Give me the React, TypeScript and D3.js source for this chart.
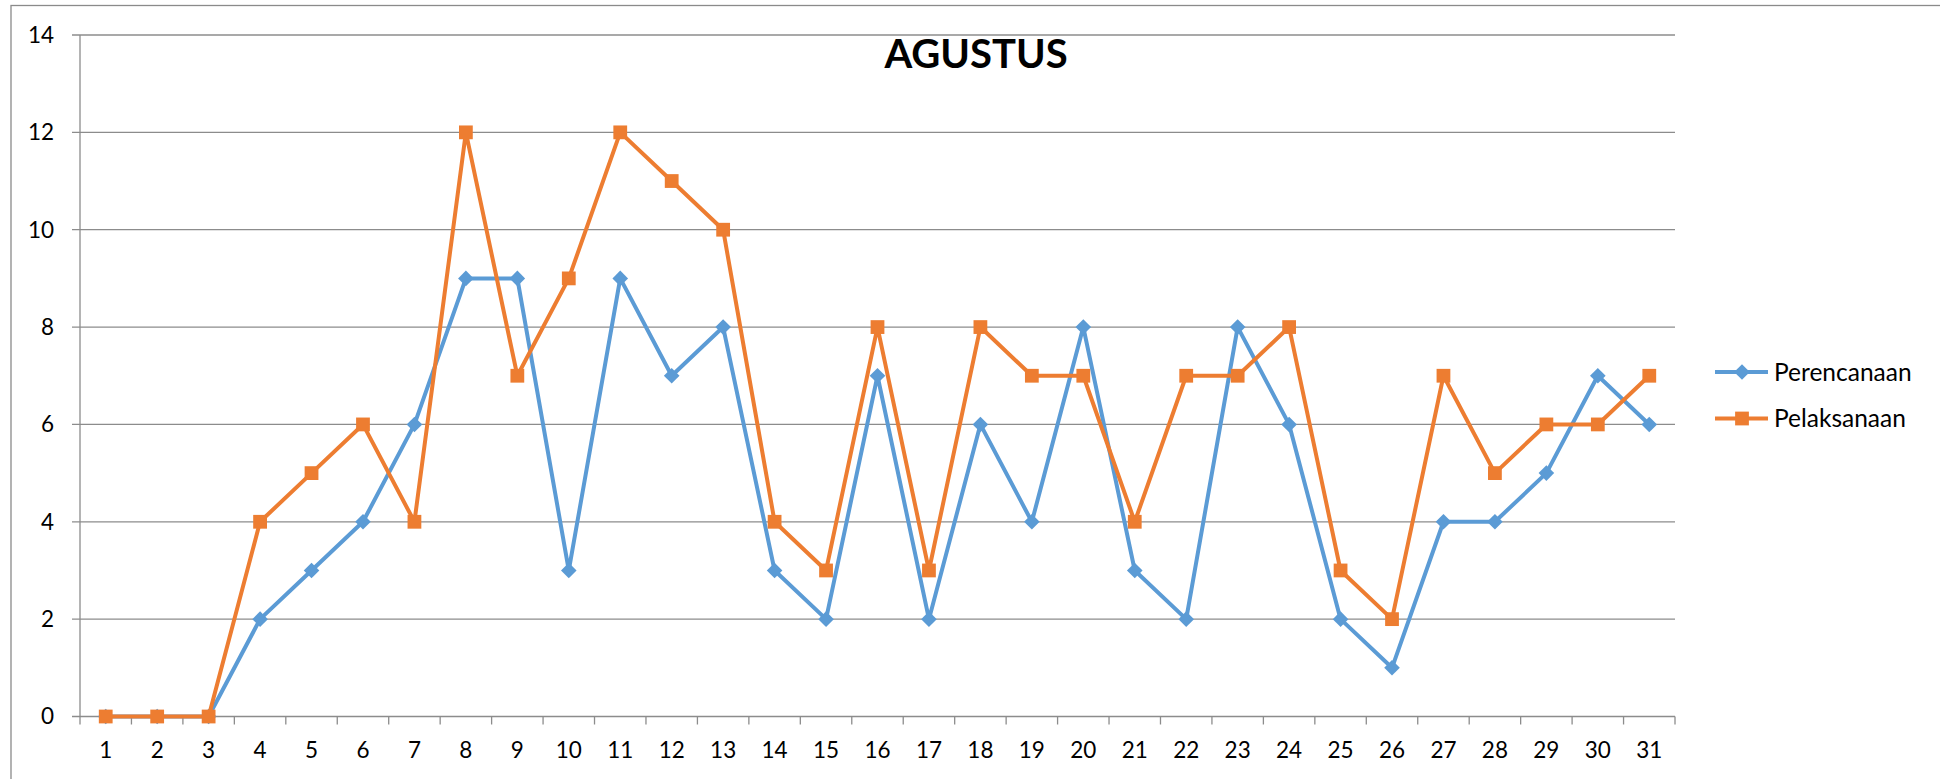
import React from "react"
import { scaleBand, scaleLinear, line, symbol, symbolSquare } from "d3"

const days = Array.from({ length: 31 }, (_, i) => String(i + 1))
const perencanaan = [0, 0, 0, 2, 3, 4, 6, 9, 9, 3, 9, 7, 8, 3, 2, 7, 2, 6, 4, 8, 3, 2, 8, 6, 2, 1, 4, 4, 5, 7, 6]
const pelaksanaan = [0, 0, 0, 4, 5, 6, 4, 12, 7, 9, 12, 11, 10, 4, 3, 8, 3, 8, 7, 7, 4, 7, 7, 8, 3, 2, 7, 5, 6, 6, 7]
const yTicks = [0, 2, 4, 6, 8, 10, 12, 14]

// excel style diamond: a square turned 45 degrees
const diamond = "M0,-7.8L7.8,0L0,7.8L-7.8,0Z"
const square = symbol().type(symbolSquare).size(190)()

const seriesList = [
  { name: "Perencanaan", values: perencanaan, color: "#5B9BD5", marker: diamond },
  { name: "Pelaksanaan", values: pelaksanaan, color: "#ED7D31", marker: square },
]

const W = 1940
const H = 779
const plot = { left: 80, right: 1675, top: 35, bottom: 716.5 }
const font = "Lato, 'Open Sans', sans-serif"
const grid = "#8c8c8c"

export default function App() {
  const x = scaleBand().domain(days).range([plot.left, plot.right])
  const y = scaleLinear().domain([0, 14]).range([plot.bottom, plot.top])
  const cx = (i) => x(days[i]) + x.bandwidth() / 2

  const path = line<number>()
    .x((_, i) => cx(i))
    .y((d) => y(d))

  const tickXs = days.map((d) => x(d)).concat([plot.right])

  return (
    <svg
      width={W}
      height={H}
      style={{ position: "absolute", left: 0, top: 0, display: "block", background: "#fff" }}
    >
      <rect x={11} y={5.5} width={W} height={H + 20} fill="#fff" stroke="#8a8a8a" strokeWidth={1.3} />

      {/* gridlines + y axis */}
      {yTicks.map((t) => (
        <g key={t}>
          <line x1={plot.left - 8} x2={plot.right} y1={y(t)} y2={y(t)} stroke={grid} strokeWidth={1.3} />
          <text
            x={54}
            y={y(t)}
            dy="0.35em"
            textAnchor="end"
            fontFamily={font}
            fontSize={22.5}
            fill="#000"
          >
            {t}
          </text>
        </g>
      ))}
      <line x1={plot.left} x2={plot.left} y1={plot.top} y2={plot.bottom} stroke={grid} strokeWidth={1.3} />

      {/* x axis ticks and labels */}
      {tickXs.map((tx, i) => (
        <line key={i} x1={tx} x2={tx} y1={plot.bottom} y2={plot.bottom + 8} stroke={grid} strokeWidth={1.3} />
      ))}
      {days.map((d, i) => (
        <text
          key={d}
          x={cx(i)}
          y={758}
          textAnchor="middle"
          fontFamily={font}
          fontSize={22.5}
          fill="#000"
        >
          {d}
        </text>
      ))}

      {/* series */}
      {seriesList.map((s) => (
        <g key={s.name}>
          <path d={path(s.values)} fill="none" stroke={s.color} strokeWidth={4} strokeLinejoin="round" />
          {s.values.map((v, i) => (
            <path key={i} d={s.marker} transform={`translate(${cx(i)},${y(v)})`} fill={s.color} />
          ))}
        </g>
      ))}

      {/* title */}
      <text x={976} y={68} textAnchor="middle" fontFamily={font} fontWeight="bold" fontSize={40} fill="#000">
        AGUSTUS
      </text>

      {/* legend */}
      {seriesList.map((s, i) => {
        const ly = 372 + i * 46.5
        return (
          <g key={s.name}>
            <line x1={1715} x2={1768} y1={ly} y2={ly} stroke={s.color} strokeWidth={4} />
            <path d={s.marker} transform={`translate(1742,${ly})`} fill={s.color} />
            <text x={1774} y={ly} dy="0.35em" fontFamily={font} fontSize={24.5} fill="#000">
              {s.name}
            </text>
          </g>
        )
      })}
    </svg>
  )
}
